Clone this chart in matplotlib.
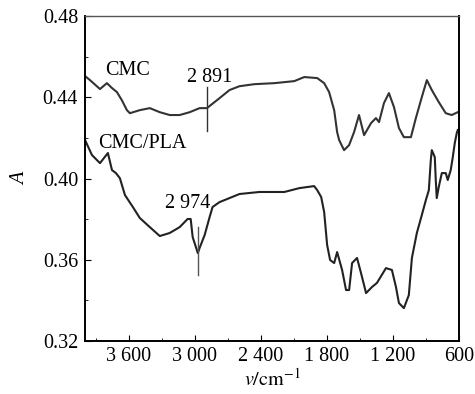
import matplotlib.pyplot as plt

plt.rcParams["font.family"] = ["Liberation Serif", "DejaVu Serif"]
plt.rcParams["mathtext.fontset"] = "stix"

# CMC spectrum (wavenumber cm-1, absorbance)
cmc_v = [4000, 3955, 3864, 3801, 3755, 3710, 3665, 3619, 3592, 3502, 3411, 3320,
         3230, 3139, 3048, 2958, 2891, 2777, 2686, 2595, 2459, 2278, 2097, 2006,
         1888, 1825, 1780, 1734, 1707, 1689, 1644, 1598, 1553, 1508, 1462, 1399,
         1354, 1326, 1281, 1236, 1190, 1145, 1100, 1036, 991, 937, 891, 846,
         783, 719, 665, 610]
cmc_a = [0.4505, 0.4485, 0.4441, 0.4470, 0.4446, 0.4426, 0.4386, 0.4337, 0.4322,
         0.4337, 0.4347, 0.4327, 0.4313, 0.4313, 0.4327, 0.4347, 0.4347, 0.4396,
         0.4436, 0.4455, 0.4465, 0.4470, 0.4480, 0.4500, 0.4495, 0.4470, 0.4426,
         0.4337, 0.4229, 0.4190, 0.4140, 0.4165, 0.4229, 0.4313, 0.4214, 0.4273,
         0.4298, 0.4278, 0.4372, 0.4421, 0.4352, 0.4249, 0.4204, 0.4204, 0.4298,
         0.4401, 0.4485, 0.4436, 0.4377, 0.4322, 0.4313, 0.4327]

# CMC/PLA spectrum
pla_v = [4000, 3937, 3864, 3792, 3755, 3719, 3683, 3637, 3565, 3502, 3411, 3320,
         3230, 3139, 3067, 3039, 3021, 2974, 2958, 2912, 2867, 2840, 2777, 2686,
         2595, 2414, 2187, 2051, 1916, 1888, 1852, 1825, 1798, 1771, 1734, 1707,
         1662, 1626, 1598, 1571, 1526, 1490, 1444, 1390, 1345, 1263, 1209, 1172,
         1145, 1100, 1055, 1027, 982, 937, 900, 873, 855, 846, 819, 810, 801,
         783, 755, 719, 701, 674, 655, 637, 619, 610]
pla_a = [0.4190, 0.4116, 0.4076, 0.4126, 0.4042, 0.4027, 0.4002, 0.3919, 0.3860,
         0.3806, 0.3761, 0.3717, 0.3732, 0.3761, 0.3801, 0.3801, 0.3712, 0.3633,
         0.3658, 0.3722, 0.3810, 0.3860, 0.3884, 0.3904, 0.3924, 0.3934, 0.3934,
         0.3953, 0.3963, 0.3943, 0.3909, 0.3835, 0.3673, 0.3599, 0.3584, 0.3638,
         0.3550, 0.3451, 0.3451, 0.3584, 0.3609, 0.3535, 0.3436, 0.3466, 0.3486,
         0.3559, 0.3550, 0.3466, 0.3387, 0.3362, 0.3426, 0.3609, 0.3732, 0.3820,
         0.3894, 0.3943, 0.4091, 0.4140, 0.4106, 0.3993, 0.3904, 0.3958, 0.4027,
         0.4027, 0.3993, 0.4042, 0.4106, 0.4175, 0.4224, 0.4239]

x_ticks = [3600, 3000, 2400, 1800, 1200, 600]
x_labels = ["3 600", "3 000", "2 400", "1 800", "1 200", "600"]
y_ticks = [0.32, 0.36, 0.40, 0.44, 0.48]

fs = 14.5

fig = plt.figure(figsize=(4.75, 3.94), dpi=100)
ax = fig.add_axes([0.179, 0.1345, 0.787, 0.8245])

ax.plot(cmc_v, cmc_a, color="#333333", linewidth=1.5)
ax.plot(pla_v, pla_a, color="#222222", linewidth=1.5)

# peak markers
ax.plot([2891, 2891], [0.4234, 0.4450], color="#333333", linewidth=1)
ax.plot([2974, 2974], [0.3525, 0.3761], color="#555555", linewidth=1)
ax.text(2867, 0.4500, "2 891", fontsize=fs, ha="center", va="center")
ax.text(3067, 0.3875, "2 974", fontsize=fs, ha="center", va="center")
ax.text(3610, 0.4534, "CMC", fontsize=fs, ha="center", va="center")
ax.text(3483, 0.4175, "CMC/PLA", fontsize=fs, ha="center", va="center")

ax.set_xlim(4000, 600)
ax.set_ylim(0.32, 0.48)
ax.set_xticks(x_ticks)
ax.set_xticklabels(x_labels)
ax.set_xticks([3900, 3300, 2700, 2100, 1500, 900], minor=True)
ax.set_yticks(y_ticks)
ax.set_yticklabels(["%.2f" % t for t in y_ticks])
ax.set_yticks([0.34, 0.38, 0.42, 0.46], minor=True)
ax.tick_params(which="both", direction="in", labelsize=fs)
ax.tick_params(axis="y", pad=5)
ax.tick_params(axis="x", pad=4)
ax.tick_params(which="major", length=4)
ax.tick_params(which="minor", length=2.5)
for side in ["left", "bottom", "right"]:
    ax.spines[side].set_linewidth(1.4)
ax.spines["top"].set_linewidth(1.0)
ax.spines["top"].set_color("#555555")

ax.set_xlabel(r"$v/\mathrm{cm}^{-1}$", fontsize=fs, labelpad=2)
ax.set_ylabel("A", fontsize=fs, style="italic", labelpad=9)

fig.savefig("out.png", dpi=100)
